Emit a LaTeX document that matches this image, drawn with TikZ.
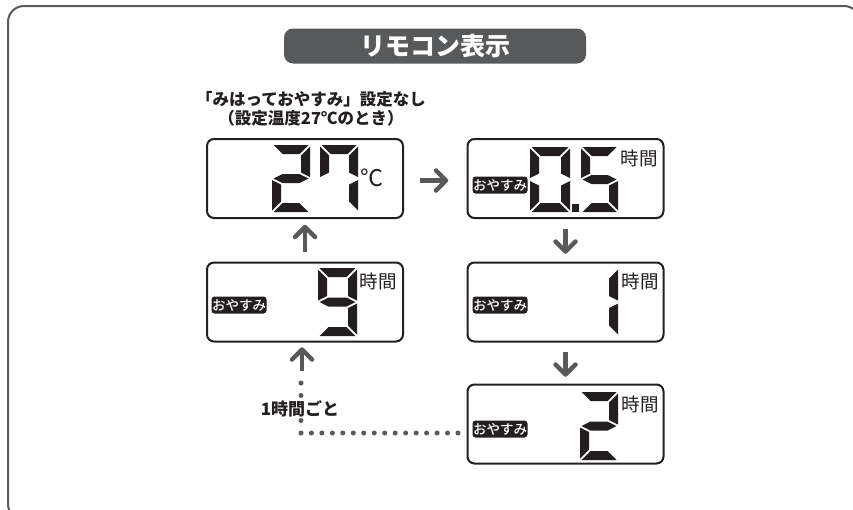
\documentclass[tikz,border=0pt]{standalone}
\usepackage{fontspec}
\newfontfamily\jp{Noto Sans CJK JP}
\newfontfamily\jpm{Noto Sans CJK JP Medium}
\definecolor{gray1}{HTML}{58595B}
\definecolor{ink}{HTML}{231F20}
\def\lt{9}
\def\lg{1.5}
\newcommand\lcdsega{\fill[ink] ({\lxa+\lg},\lya) -- ({\lxb-\lg},\lya) -- ({\lxb-\lt-\lg},{\lya+\lt}) -- ({\lxa+\lt+\lg},{\lya+\lt}) -- cycle;}
\newcommand\lcdsegd{\fill[ink] ({\lxa+\lg},\lyb) -- ({\lxb-\lg},\lyb) -- ({\lxb-\lt-\lg},{\lyb-\lt}) -- ({\lxa+\lt+\lg},{\lyb-\lt}) -- cycle;}
\newcommand\lcdsegf{\fill[ink] (\lxa,{\lya+\lg}) -- ({\lxa+\lt},{\lya+\lt+\lg}) -- ({\lxa+\lt},{\lym-\lt/2-\lg}) -- (\lxa,{\lym-\lg}) -- cycle;}
\newcommand\lcdsege{\fill[ink] (\lxa,{\lyb-\lg}) -- ({\lxa+\lt},{\lyb-\lt-\lg}) -- ({\lxa+\lt},{\lym+\lt/2+\lg}) -- (\lxa,{\lym+\lg}) -- cycle;}
\newcommand\lcdsegb{\fill[ink] (\lxb,{\lya+\lg}) -- ({\lxb-\lt},{\lya+\lt+\lg}) -- ({\lxb-\lt},{\lym-\lt/2-\lg}) -- (\lxb,{\lym-\lg}) -- cycle;}
\newcommand\lcdsegc{\fill[ink] (\lxb,{\lyb-\lg}) -- ({\lxb-\lt},{\lyb-\lt-\lg}) -- ({\lxb-\lt},{\lym+\lt/2+\lg}) -- (\lxb,{\lym+\lg}) -- cycle;}
\newcommand\lcdsegg{\fill[ink] ({\lxa+\lg},\lym) -- ({\lxa+\lt+\lg},{\lym-\lt/2}) -- ({\lxb-\lt-\lg},{\lym-\lt/2}) -- ({\lxb-\lg},\lym) -- ({\lxb-\lt-\lg},{\lym+\lt/2}) -- ({\lxa+\lt+\lg},{\lym+\lt/2}) -- cycle;}
\newcommand\lcddigit[5]{%
  \def\lxa{#1}\def\lya{#2}\def\lxb{#3}\def\lyb{#4}%
  \pgfmathsetmacro\lym{(#2+#4)/2}%
  \foreach \s in {#5} {\csname lcdseg\s\endcsname}%
}
\newcommand\headR[1]{\draw[head] ([shift={(-10,-10)}]#1) -- (#1) -- ([shift={(-10,10)}]#1);}
\newcommand\headU[1]{\draw[head] ([shift={(-10,10)}]#1) -- (#1) -- ([shift={(10,10)}]#1);}
\newcommand\headD[1]{\draw[head] ([shift={(-10,-10)}]#1) -- (#1) -- ([shift={(10,-10)}]#1);}
\tikzset{
  lcdbox/.style={draw=ink, line width=2pt, rounded corners=7pt, minimum width=196pt, minimum height=79pt, inner sep=0pt},
  shaft/.style={gray1, line width=4.5pt},
  head/.style={gray1, line width=4.5pt, line cap=round, line join=round},
  sleep/.style={fill=ink, text=white, rounded corners=3pt, inner sep=0pt, minimum width=55pt, minimum height=17pt, font=\jpm\fontsize{13.5}{14}\selectfont},
  hours/.style={text=ink, inner sep=0pt, font=\jp\fontsize{18.5}{19}\selectfont},
  dotsH/.style={gray1, line width=5pt, line cap=round, dash pattern=on 0pt off 10.47pt},
  dotsV/.style={gray1, line width=5pt, line cap=round, dash pattern=on 0pt off 12.5pt}
}
\begin{document}
\begin{tikzpicture}[x=1pt, y=-1pt]
\useasboundingbox (0,0) rectangle (853,509);
\fill[white] (0,0) rectangle (853,509);
\draw[gray1, line width=2pt, rounded corners=16pt] (8,6) rectangle (860,520);
\node[fill=gray1, rounded corners=9pt, minimum width=302pt, minimum height=35pt, inner sep=0pt, text=white, font=\jp\bfseries\fontsize{25}{25}\selectfont] (title) at (435,46) {リモコン表示};
\node[text=ink, align=center, inner sep=0pt, font=\jp\bfseries\fontsize{16.5}{19}\selectfont] (cond) at (311,109) {「みはっておやすみ」設定なし\\（設定温度27℃のとき）};
% boxes
\node[lcdbox] (b1) at (305,178.5) {};
\node[lcdbox] (b2) at (565.5,178.5) {};
\node[lcdbox] (b3) at (305,302) {};
\node[lcdbox] (b4) at (565.5,302) {};
\node[lcdbox] (b5) at (565.5,424) {};
% box 1: 27C
\lcddigit{272}{145}{310}{212}{a,b,g,e,d}
\lcddigit{320}{145}{358}{212}{a,b,c,f}
\node[text=ink, inner sep=0pt, font=\jp\fontsize{23}{23}\selectfont] (deg) at (372,178) {℃};
% box 2: 0.5
\lcddigit{530}{147}{570}{212}{a,b,c,d,e,f}
\fill[ink] (572,204) rectangle (579,212);
\lcddigit{581}{147}{618}{212}{a,f,g,c,d}
\node[hours] (h2) at (639,158) {時間};
\node[sleep] (s2) at (500,185) {おやすみ};
% box 3: 9
\lcddigit{318}{268}{357}{336}{a,b,c,d,f,g}
\node[hours] (h3) at (378,281) {時間};
\node[sleep] (s3) at (239,305) {おやすみ};
% box 4: 1
\lcddigit{580}{268}{618}{336}{b,c}
\node[hours] (h4) at (640,281) {時間};
\node[sleep] (s4) at (500,305) {おやすみ};
% box 5: 2
\lcddigit{580}{392}{618}{460}{a,b,g,e,d}
\node[hours] (h5) at (640,404) {時間};
\node[sleep] (s5) at (500,429) {おやすみ};
% arrows
\coordinate (t12) at ([shift={(42,2)}]b1.east);
\draw[shaft] ([shift={(16,2)}]b1.east) -- ([shift={(-2,0)}]t12);
\headR{t12}
\coordinate (t31) at ([shift={(0,8)}]b1.south);
\draw[shaft] ([shift={(0,-10)}]b3.north) -- ([shift={(0,2)}]t31);
\headU{t31}
\coordinate (t24) at ([shift={(0,-10)}]b4.north);
\draw[shaft] ([shift={(0,10)}]b2.south) -- ([shift={(0,-2)}]t24);
\headD{t24}
\coordinate (t45) at ([shift={(0,-9)}]b5.north);
\draw[shaft] ([shift={(0,9)}]b4.south) -- ([shift={(0,-2)}]t45);
\headD{t45}
\coordinate (c3) at (302,371);
\coordinate (t3) at ([shift={(-3,7)}]b3.south);
\draw[shaft] (c3) -- ([shift={(0,2)}]t3);
\headU{t3}
\coordinate (c0) at (301,383);
\coordinate (c1) at (301,433);
\coordinate (c2) at (458,433);
\draw[dotsH] (c2) -- (c1);
\draw[dotsV] (c1) -- (c0);
\node[fill=white, text=ink, inner sep=1pt, font=\jp\bfseries\fontsize{17}{17}\selectfont] (every) at (300,409) {1時間ごと};
\end{tikzpicture}
\end{document}
